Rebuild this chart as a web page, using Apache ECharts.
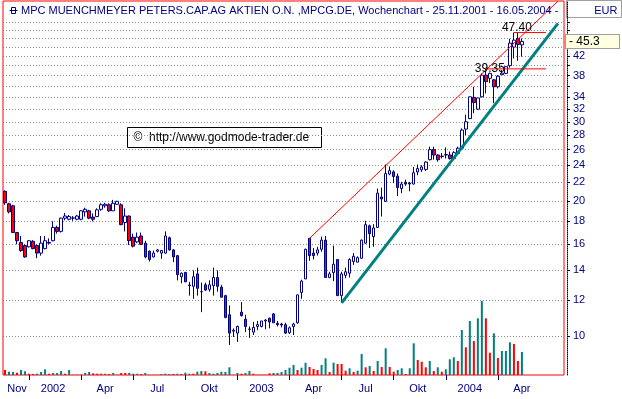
<!DOCTYPE html>
<html>
<head>
<meta charset="utf-8">
<script src="https://cdn.jsdelivr.net/npm/echarts@6/dist/echarts.min.js"></script>
<style>
  html, body { margin: 0; padding: 0; background: #fff; }
  #chart { width: 622px; height: 399px; }
</style>
</head>
<body>
<div id="chart"></div>
<script>
// Wochenkerzen MPC Münchmeyer Petersen, 25.11.2001 - 16.05.2004
const opens = [21.0,19.7,19.5,17.0,16.15,15.9,15.8,16.25,15.9,15.3, 15.65,16.1,16.3,17.45,17.1,18.3,18.2,18.3,18.2,18.2,
  18.9,19.0,18.4,18.45,19.15,19.5,19.6,19.0,19.65,19.6, 17.9,18.5,16.6,16.2,16.7,16.1,15.45,15.0,15.45,15.3,
  15.3,16.55,15.55,15.1,13.55,13.85,12.99,12.9,13.75,12.55, 13.0,12.7,12.95,13.5,12.85,12.3,11.15,10.25,10.15,11.3,
  10.9,10.36,10.2,10.5,10.5,10.8,10.95,11.2,10.67,10.63, 10.6,10.17,10.5,10.7,12.5,13.4,16.5,15.3,15.3,15.6,
  16.35,13.5,13.85,14.8,12.3,13.65,13.8,14.65,14.6,14.9, 16.1,17.6,16.65,17.45,20.4,19.95,22.95,23.2,22.7,21.3,
  22.0,21.9,21.8,23.2,23.45,23.5,24.7,26.0,25.3,25.1, 25.3,25.3,24.85,25.5,26.2,28.9,30.5,34.0,32.0,34.1,
  38.1,37.5,37.2,35.9,38.2,38.45,40.0,44.0,46.0,44.5];
const highs = [21.1,19.8,19.6,17.05,16.7,16.0,16.35,16.35,16.0,16.7, 16.7,16.5,18.0,17.6,18.35,18.8,18.6,18.5,18.6,19.05,
  19.3,19.1,18.75,19.25,19.75,19.8,19.75,20.1,20.0,19.75, 19.25,18.55,16.9,17.0,17.0,16.3,15.5,15.5,15.6,15.55,
  17.1,16.65,15.6,15.15,13.85,13.9,13.2,14.0,14.2,13.15, 13.15,13.3,14.2,14.0,13.0,12.35,11.7,10.4,10.55,11.9,
  11.15,10.5,10.75,10.8,10.8,10.9,11.0,11.25,10.8,10.7, 10.7,10.5,10.7,12.35,13.35,15.65,16.5,15.7,15.8,16.65,
  16.7,13.9,15.9,14.8,13.9,14.2,14.9,15.3,15.05,16.4, 18.05,17.7,17.75,21.3,21.4,24.1,23.85,23.4,23.0,22.05,
  22.3,22.05,23.8,24.1,24.0,24.5,26.4,26.4,25.4,25.55, 26.3,25.75,25.8,26.4,29.0,31.1,34.1,35.9,33.9,38.45,
  39.35,38.6,37.35,38.1,39.1,39.9,45.9,47.4,47.3,46.0];
const lows = [19.6,18.75,16.95,16.0,15.4,14.95,15.75,15.6,14.9,15.1, 15.6,16.0,16.25,16.9,17.0,18.1,18.1,18.05,18.1,18.1,
  18.45,18.2,18.0,18.4,19.0,19.3,18.9,19.0,19.6,17.65, 17.1,15.95,15.75,16.1,15.95,14.9,14.65,14.95,15.35,14.85,
  15.25,15.5,14.6,13.3,13.1,13.2,12.3,12.1,12.3,11.3, 12.6,12.55,12.3,12.55,12.2,10.95,9.55,9.95,9.7,11.05,
  10.2,9.9,10.05,10.3,10.45,10.35,10.4,10.7,10.5,10.45, 10.1,10.1,10.05,10.65,12.1,13.4,14.7,14.8,15.1,15.4,
  13.5,13.45,13.25,12.3,11.85,13.45,13.5,14.4,14.6,14.85, 16.05,15.7,15.8,17.4,18.45,19.9,22.8,21.9,20.5,20.8,
  21.6,21.0,21.75,22.8,23.2,23.3,24.6,24.7,24.45,24.85, 24.85,24.7,24.8,25.4,26.1,28.0,30.4,31.35,31.9,34.0,
  34.7,36.6,33.0,35.6,38.1,38.3,39.6,41.5,41.0,41.9];
const closes = [19.8,18.9,17.0,16.3,15.5,15.0,16.3,15.65,15.3,16.1, 16.3,16.15,17.45,17.1,18.3,18.5,18.45,18.32,18.5,19.0,
  19.15,18.3,18.2,19.1,19.6,19.65,19.0,19.75,19.95,17.7, 18.5,16.3,15.85,16.6,16.0,15.0,14.8,15.3,15.55,15.5,
  16.7,15.55,15.0,13.7,13.8,13.2,12.95,13.55,12.77,12.55, 12.66,13.0,13.5,12.9,12.2,11.0,10.15,10.3,10.5,11.1,
  10.5,10.35,10.45,10.6,10.8,10.85,10.75,10.7,10.6,10.58, 10.15,10.43,10.63,12.35,13.25,15.6,15.1,15.1,15.55,16.35,
  13.5,13.75,14.45,12.3,13.75,13.9,14.8,15.05,14.95,16.35, 17.7,16.9,17.4,20.8,20.2,23.0,23.35,22.65,21.4,21.8,
  21.8,21.8,23.1,23.6,23.8,24.4,26.0,25.3,24.7,25.15, 25.35,24.85,25.6,26.2,28.75,30.0,34.1,33.1,33.9,38.1,
  36.85,38.45,35.9,37.9,38.5,39.8,44.9,45.6,44.6,45.3];
// Volumen (relative Einheiten) und Farbe: 1 = steigend (petrol), 0 = fallend (rot)
const volumes = [5,3.3,3,2.3,5,3.7,1.3,1,1.3,3, 5.7,1.3,2,2,4,1.3,5,0.3,0.3,0.3,
  2,3,1.7,1.3,1.3,1.3,1,2,0.3,2, 2,2,1.3,1.3,1,2,0.3,0.3,0.3,1,
  1.3,1,1,1.3,1,2.3,1.3,1.3,3.3,4, 3.7,2,1.3,2,3.3,3,7.7,0.3,2,1.3,
  2,4,1.3,0.3,0.3,0.3,1.7,2,2,3, 5,7.3,10,5,7.3,12.3,8,6,5,10,
  16.7,3,12.3,11,11,4.3,6.7,3,4.3,21, 7.7,9,4,14,8,26.7,8,3.3,5,6.7,
  1,6.7,31.7,15,13.3,7.7,14,4,7.7,3.3, 5.7,15.7,17.7,14,45,27.7,54,34,56.7,74,
  56.7,22.3,41.7,17,24,24,32.7,31,14,23];
const volUp = [0,1,1,0,1,1,0,0,1,1, 1,0,1,1,1,0,1,1,1,1, 1,1,0,0,0,1,0,1,1,0, 0,1,1,1,0,1,1,1,1,1,
  1,1,0,1,0,1,1,0,1,1, 0,1,1,1,1,1,1,1,1,0, 1,1,0,1,1,1,0,1,1,1, 1,1,1,0,1,1,0,0,0,1,
  1,0,1,0,0,0,1,0,1,1, 0,1,0,1,0,1,0,0,1,1, 0,1,1,0,0,0,1,0,1,0, 1,1,1,0,1,0,1,0,1,1,
  0,0,1,0,1,1,1,0,0,1];

const weekCount = 140;                    // 130 Wochen Daten + Leerraum rechts
const startSunday = [2001, 10, 25];
const firstLabel = 'Nov';
const quarterLabels = ['2002','Apr','Jul','Okt','2003','Apr','Jul','Okt','2004','Apr'];
const yGrid = [10,12,14,16,18,20,22,24,26,28,30,32,34,36,38,40,42,44,46,48,50];
const yLabels = [10,12,14,16,18,20,22,24,26,28,30,32,34,38,42];
const yMin = 8.187, yMax = 55.73;
const lastPrice = 45.3;

// Trendlinien [Woche, Kurs]
const redTrend = [[76, 16.5], [138, 55.7]];
const tealTrend = [[84, 11.85], [138, 49.7]];
const level1 = [[127, 47.40], [135, 47.40]];
const level2 = [[120, 39.35], [135, 39.35]];

const titleText = 'MPC MUENCHMEYER PETERS.CAP.AG AKTIEN O.N. ,MPCG.DE, Wochenchart - 25.11.2001 - 16.05.2004 - 45.3';

const navy = '#000080', red = '#ff0000', teal = '#008080';
const font = 'Liberation Sans';

const weeks = [];
for (let k = 0; k < weekCount; k++) {
  const d = new Date(Date.UTC(startSunday[0], startSunday[1], startSunday[2] + 7 * k));
  weeks.push(d.toISOString().slice(0, 10));
}
// Quartalsstriche: erste Woche eines neuen Quartalsmonats
const tickIdx = [];
for (let k = 1; k < opens.length; k++) {
  const m = +weeks[k].slice(5, 7), pm = +weeks[k - 1].slice(5, 7);
  if (m !== pm && (m - 1) % 3 === 0) tickIdx.push(k);
}
const labelMap = {3: firstLabel};
tickIdx.forEach((t, n) => { labelMap[t + 6] = quarterLabels[n]; });

const candles = opens.map((o, k) => [o, closes[k], lows[k], highs[k]]);
const volData = volumes.map((v, k) => ({value: v, itemStyle: {color: volUp[k] ? teal : red}}));

const chart = echarts.init(document.getElementById('chart'));
chart.setOption({
  animation: false,
  backgroundColor: '#fff',
  textStyle: {fontFamily: font},
  title: {
    text: titleText, left: 21, top: 5, padding: 0,
    textStyle: {fontFamily: font, fontSize: 11, fontWeight: 'normal', color: navy,
      width: 543, overflow: 'truncate', ellipsis: ''}
  },
  grid: [
    {left: 3, top: 1, width: 561, height: 374, show: true, borderColor: red, borderWidth: 1},
    {left: 3, top: 275, width: 561, height: 100}
  ],
  xAxis: [{
    type: 'category', gridIndex: 0, data: weeks,
    axisLine: {show: false},
    axisTick: {show: true, alignWithLabel: true, length: 5, lineStyle: {color: navy},
      interval: (idx) => tickIdx.indexOf(idx) >= 0},
    axisLabel: {color: navy, fontSize: 11, fontFamily: font, margin: 8,
      interval: (idx) => labelMap[idx] !== undefined,
      formatter: (val, idx) => labelMap[idx] || ''},
    splitLine: {show: false}
  }, {
    type: 'category', gridIndex: 1, data: weeks, show: false
  }],
  yAxis: [{
    type: 'log', logBase: 10, gridIndex: 0, position: 'right', offset: 3,
    min: yMin, max: yMax,
    axisLine: {show: true, lineStyle: {color: navy, type: 'dotted'}},
    axisTick: {show: true, length: 3, customValues: yGrid, lineStyle: {color: navy}},
    axisLabel: {customValues: yLabels, color: navy, fontSize: 11, fontFamily: font, margin: 6,
      formatter: (v) => String(Math.round(v * 10) / 10)},
    splitLine: {show: false}
  }, {
    type: 'value', gridIndex: 1, min: 0, max: 100, show: false
  }],
  series: [{
    type: 'bar', xAxisIndex: 1, yAxisIndex: 1, data: volData, barWidth: 2, silent: true
  }, {
    type: 'candlestick', xAxisIndex: 0, yAxisIndex: 0, data: candles, barWidth: 3,
    itemStyle: {color: '#ffffff', color0: red, borderColor: navy, borderColor0: navy,
      borderColorDoji: navy, borderWidth: 1},
    markLine: {
      silent: true, symbol: 'none', animation: false, z: 1,
      label: {show: false},
      lineStyle: {color: '#8c8c8c', type: [1, 2], width: 1},
      data: yGrid.map(v => ({yAxis: v}))
    },
    z: 2
  }, {
    type: 'line', data: redTrend, symbol: 'none', silent: true,
    lineStyle: {color: red, width: 1}, z: 3
  }, {
    type: 'line', data: tealTrend, symbol: 'none', silent: true,
    lineStyle: {color: teal, width: 3}, z: 4,
    markLine: {
      silent: true, symbol: 'none', animation: false,
      lineStyle: {color: 'transparent', width: 0},
      label: {show: true, position: 'end', distance: 2, formatter: '- ' + lastPrice,
        color: '#000', fontSize: 12, fontFamily: font, backgroundColor: '#ffffe1',
        borderColor: '#a0a0a0', borderWidth: 1, padding: [1, 4, 0, 3], width: 46, align: 'left'},
      data: [{yAxis: lastPrice}]
    }
  }, {
    type: 'line', symbol: 'circle', symbolSize: 1, showSymbol: true, silent: true,
    itemStyle: {color: 'rgba(0,0,0,0)'}, lineStyle: {color: red, width: 1}, z: 5,
    label: {show: false},
    data: [{value: level1[0], label: {show: true, position: 'top', distance: 0, offset: [3, 2],
      formatter: '47.40', color: '#000', fontSize: 12, fontFamily: font}}, level1[1]]
  }, {
    type: 'line', symbol: 'circle', symbolSize: 1, showSymbol: true, silent: true,
    itemStyle: {color: 'rgba(0,0,0,0)'}, lineStyle: {color: red, width: 1}, z: 5,
    label: {show: false},
    data: [{value: level2[0], label: {show: true, position: 'inside', offset: [4, 0],
      formatter: '39.35', color: '#000', fontSize: 12, fontFamily: font}}, level2[1]]
  }],
  graphic: [{
    type: 'group', left: 127, top: 127, silent: true,
    children: [
      {type: 'rect', shape: {x: 0, y: 0, width: 194, height: 20}, style: {fill: '#fff', stroke: '#000', lineWidth: 1}},
      {type: 'text', x: 6, y: 10, style: {text: '©  http://www.godmode-trader.de', fill: '#000',
        font: '12px "Liberation Sans"', verticalAlign: 'middle'}}
    ]
  }, {
    type: 'group', left: 566, top: 0, silent: true,
    children: [
      {type: 'rect', shape: {x: 0, y: 0, width: 55, height: 17}, style: {fill: '#fff', stroke: '#a0a0a0', lineWidth: 1}},
      {type: 'text', x: 51, y: 10, style: {text: 'EUR', fill: navy, font: '11px "Liberation Sans"',
        align: 'right', verticalAlign: 'middle'}}
    ]
  }, {
    type: 'group', left: 7, top: 7, silent: true,
    children: [
      {type: 'rect', shape: {x: 2, y: 0, width: 4, height: 6}, style: {fill: '#fff', stroke: navy, lineWidth: 1}},
      {type: 'line', shape: {x1: 0, y1: 3, x2: 8, y2: 3}, style: {stroke: navy, lineWidth: 1}}
    ]
  }]
});
</script>
</body>
</html>
